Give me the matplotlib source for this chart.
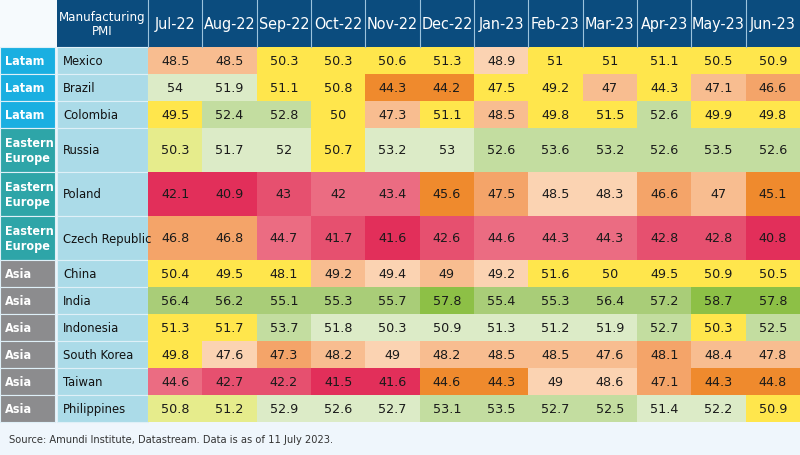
import matplotlib.pyplot as plt
from matplotlib import font_manager
from matplotlib.patches import Rectangle

# ---- data ----
months = ['Jul-22', 'Aug-22', 'Sep-22', 'Oct-22', 'Nov-22', 'Dec-22',
          'Jan-23', 'Feb-23', 'Mar-23', 'Apr-23', 'May-23', 'Jun-23']
regions = ['Latam', 'Latam', 'Latam', 'Eastern\nEurope', 'Eastern\nEurope',
           'Eastern\nEurope', 'Asia', 'Asia', 'Asia', 'Asia', 'Asia', 'Asia']
countries = ['Mexico', 'Brazil', 'Colombia', 'Russia', 'Poland', 'Czech Republic',
             'China', 'India', 'Indonesia', 'South Korea', 'Taiwan', 'Philippines']

mexico      = [48.5, 48.5, 50.3, 50.3, 50.6, 51.3, 48.9, 51, 51, 51.1, 50.5, 50.9]
brazil      = [54, 51.9, 51.1, 50.8, 44.3, 44.2, 47.5, 49.2, 47, 44.3, 47.1, 46.6]
colombia    = [49.5, 52.4, 52.8, 50, 47.3, 51.1, 48.5, 49.8, 51.5, 52.6, 49.9, 49.8]
russia      = [50.3, 51.7, 52, 50.7, 53.2, 53, 52.6, 53.6, 53.2, 52.6, 53.5, 52.6]
poland      = [42.1, 40.9, 43, 42, 43.4, 45.6, 47.5, 48.5, 48.3, 46.6, 47, 45.1]
czech       = [46.8, 46.8, 44.7, 41.7, 41.6, 42.6, 44.6, 44.3, 44.3, 42.8, 42.8, 40.8]
china       = [50.4, 49.5, 48.1, 49.2, 49.4, 49, 49.2, 51.6, 50, 49.5, 50.9, 50.5]
india       = [56.4, 56.2, 55.1, 55.3, 55.7, 57.8, 55.4, 55.3, 56.4, 57.2, 58.7, 57.8]
indonesia   = [51.3, 51.7, 53.7, 51.8, 50.3, 50.9, 51.3, 51.2, 51.9, 52.7, 50.3, 52.5]
south_korea = [49.8, 47.6, 47.3, 48.2, 49, 48.2, 48.5, 48.5, 47.6, 48.1, 48.4, 47.8]
taiwan      = [44.6, 42.7, 42.2, 41.5, 41.6, 44.6, 44.3, 49, 48.6, 47.1, 44.3, 44.8]
philippines = [50.8, 51.2, 52.9, 52.6, 52.7, 53.1, 53.5, 52.7, 52.5, 51.4, 52.2, 50.9]

values = [mexico, brazil, colombia, russia, poland, czech, china, india,
          indonesia, south_korea, taiwan, philippines]

# ---- cell shading as used in the original table ----
palette = {
    'R': '#e22f5a', 'r': '#e6506f', 'k': '#eb6c82',
    'O': '#ef8a2d', 'o': '#f4a469', 'p': '#f8bd90', 'q': '#fbd3b2',
    'Y': '#ffe64c', 'v': '#e6ec8c',
    'l': '#dcebc7', 'g': '#c3dda0', 'h': '#a9cd78', 'G': '#8dc046',
}
shades = [
    'ppYYYYqYYYYY',
    'llYYOOYYpYpo',
    'YggYpYpYYgYY',
    'vllYllgggggg',
    'RRrkkOoqqopO',
    'ookrRrkkkrrR',
    'YYYpqpqYYYYY',
    'hhhhhGhhhhGG',
    'YYgllllllgYg',
    'Yqopqppppopp',
    'krrRROOqqoOO',
    'vvlllggggllY',
]

region_colors = {'Latam': '#1aafe1', 'Eastern\nEurope': '#2ea5a8', 'Asia': '#8c8c8e'}

# pick a condensed face if one is installed
fonts = font_manager.fontManager.ttflist
names = {f.name for f in fonts}
if 'Liberation Sans Narrow' in names:
    narrow = dict(family='Liberation Sans Narrow')
    shrink = 1.0
elif any(f.name == 'DejaVu Sans' and 'condensed' in str(f.stretch) for f in fonts):
    narrow = dict(family='DejaVu Sans', fontstretch='condensed')
    shrink = 0.9
else:
    narrow = dict(family='Roboto')
    shrink = 0.82

# ---- layout (pixels) ----
W, H = 800, 455
header_h = 47
reg_w = 55
cty_x0, cty_x1 = 57, 148
col_w = (W - cty_x1) / len(months)
row_heights = [44 if '\n' in r else 27 for r in regions]

fig = plt.figure(figsize=(8, 4.55), dpi=100)
fig.patch.set_facecolor('#eff6fc')
ax = fig.add_axes([0, 0, 1, 1])
ax.set_xlim(0, W)
ax.set_ylim(H, 0)
ax.axis('off')

# header
ax.add_patch(Rectangle((0, 0), cty_x0, header_h, color='#f6fafd', lw=0))
ax.add_patch(Rectangle((cty_x0, 0), W - cty_x0, header_h, color='#0b4c7e', lw=0))
ax.text((cty_x0 + cty_x1) / 2, header_h / 2 + 1, 'Manufacturing\nPMI', color='white',
        ha='center', va='center', fontsize=10.5 * shrink, linespacing=1.15,
        fontweight='medium', **narrow)
for j, m in enumerate(months):
    x0 = cty_x1 + j * col_w
    ax.plot([x0, x0], [0, header_h], color='#9cc3dd', lw=0.8)
    ax.text(x0 + col_w / 2, header_h / 2 + 1, m, color='white', ha='center',
            va='center', fontsize=12.8 * shrink, fontweight='medium', **narrow)

# rows
y = header_h
for i, (reg, cty) in enumerate(zip(regions, countries)):
    h = row_heights[i]
    ax.add_patch(Rectangle((0, y), reg_w, h, facecolor=region_colors[reg],
                           edgecolor='#dff0f8', lw=0.8))
    ax.add_patch(Rectangle((cty_x0, y), cty_x1 - cty_x0, h, facecolor='#abdbe8',
                           edgecolor='#dff0f8', lw=0.8))
    ax.text(5, y + h / 2 + 1, reg, color='white', ha='left', va='center',
            fontsize=10 * shrink, fontweight='bold', linespacing=1.15, **narrow)
    ax.text(cty_x0 + 6, y + h / 2 + 1, cty, color='#111111', ha='left',
            va='center', fontsize=10.3 * shrink, **narrow)
    for j, v in enumerate(values[i]):
        x0 = cty_x1 + j * col_w
        ax.add_patch(Rectangle((x0, y), col_w, h, color=palette[shades[i][j]], lw=0))
        ax.text(x0 + col_w / 2, y + h / 2 + 1, f'{v:g}', color='#1a1a1a',
                ha='center', va='center', fontsize=9.2)
    y += h

ax.text(9, 440, 'Source: Amundi Institute, Datastream. Data is as of 11 July 2023.',
        color='#333333', ha='left', va='center', fontsize=8.8 * shrink, **narrow)

fig.savefig('out.png', dpi=100, facecolor=fig.get_facecolor())
